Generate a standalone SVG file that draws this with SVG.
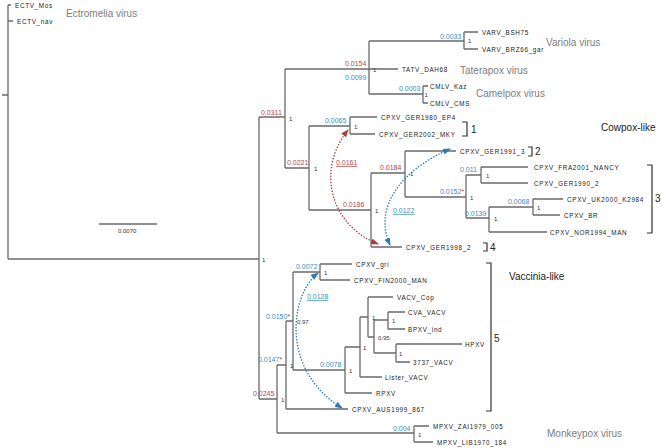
<svg xmlns="http://www.w3.org/2000/svg" width="662" height="448" viewBox="0 0 662 448">
<defs>
<style>
.br{stroke:#6a6a6a;stroke-width:1.3;fill:none}
.lf{font-family:"Liberation Sans",Arial,sans-serif;font-size:6.3px;letter-spacing:0.7px;fill:#222}
.bl{font-family:"Liberation Sans",Arial,sans-serif;font-size:7px;fill:#3a8cc4}
.rd{font-family:"Liberation Sans",Arial,sans-serif;font-size:7px;fill:#b84545}
.sp{font-family:"Liberation Sans",Arial,sans-serif;font-size:6px;fill:#333}
.grp{font-family:"Liberation Sans",Arial,sans-serif;font-size:10px;fill:#7d7d7d}
.cl{font-family:"Liberation Sans",Arial,sans-serif;font-size:10px;fill:#222}
.bk{stroke:#333;stroke-width:1.2;fill:none}
.u{text-decoration:underline}
.ra{stroke:#b03a3a;stroke-width:1.3;fill:none;stroke-dasharray:1.5 1.5}
.ba{stroke:#2b7bba;stroke-width:1.3;fill:none;stroke-dasharray:1.5 1.5}
</style>
<marker id="mr" viewBox="0 0 8 6" refX="7" refY="3" markerWidth="8" markerHeight="6" markerUnits="userSpaceOnUse" orient="auto-start-reverse"><path d="M0,0 L8,3 L0,6 Z" fill="#b03a3a"/></marker>
<marker id="mb" viewBox="0 0 8 6" refX="7" refY="3" markerWidth="8" markerHeight="6" markerUnits="userSpaceOnUse" orient="auto-start-reverse"><path d="M0,0 L8,3 L0,6 Z" fill="#2b7bba"/></marker>
</defs>
<rect width="662" height="448" fill="#fff"/>

<g id="connectors">
<!-- root -->
<path class="br" d="M2,95 H8 M8,5 V259 M8,5 H11 M8,21 H13 M8,259 H259"/>
<!-- A -->
<path class="br" d="M259,117 V399 M259,117 H285 M259,399 H277"/>
<!-- B -->
<path class="br" d="M285,69 V168 M285,69 H398 M285,168 H309"/>
<!-- C trifurcation -->
<path class="br" d="M369,41 V94 M369,41 H464 M369,94 H423"/>
<path class="br" d="M464,32 V49 M464,32 H478 M464,49 H478"/>
<path class="br" d="M423,86 V103 M423,86 H428 M423,103 H428"/>
<!-- D -->
<path class="br" d="M309,126 V210 M309,126 H350 M309,210 H371"/>
<path class="br" d="M350,117 V134 M350,117 H377 M350,134 H375"/>
<!-- E -->
<path class="br" d="M371,173 V247 M371,173 H405 M371,247 H402"/>
<path class="br" d="M405,151 V197 M405,151 H456 M405,197 H466"/>
<path class="br" d="M466,175 V218 M466,175 H481 M466,218 H489"/>
<path class="br" d="M481,167 V183 M481,167 H528 M481,183 H528"/>
<path class="br" d="M489,207 V232 M489,207 H533 M489,232 H547"/>
<path class="br" d="M533,199 V215 M533,199 H563 M533,215 H560"/>
<!-- Vaccinia side -->
<path class="br" d="M277,365 V433 M277,365 H286 M277,433 H414"/>
<path class="br" d="M414,426 V442 M414,426 H429 M414,442 H433"/>
<path class="br" d="M286,321 V409 M286,321 H293 M286,409 H348"/>
<path class="br" d="M293,272 V370 M293,272 H320 M293,370 H345"/>
<path class="br" d="M320,264 V280 M320,264 H352 M320,280 H350"/>
<path class="br" d="M345,347 V393 M345,347 H360 M345,393 H372"/>
<path class="br" d="M360,317 V377 M360,317 H368 M360,377 H382"/>
<path class="br" d="M368,297 V337 M368,297 H393 M368,337 H374"/>
<path class="br" d="M374,320 V353 M374,320 H388 M374,353 H396"/>
<path class="br" d="M388,312 V329 M388,312 H405 M388,329 H405"/>
<path class="br" d="M396,344 V362 M396,344 H462 M396,362 H410"/>
<!-- scale bar -->
<path class="br" d="M99,224 H157"/>
<!-- brackets -->
<path class="bk" d="M462,122 H467 V136 H462"/>
<path class="bk" d="M528,147 H532 V156 H528"/>
<path class="bk" d="M647,165 H652 V233 H647"/>
<path class="bk" d="M483,243 H487 V251 H483"/>
<path class="bk" d="M486,263 H491 V411 H486"/>
<!-- recombination arrows -->
<path class="ra" d="M378,244 C330,225 316,170 348,130" marker-start="url(#mr)" marker-end="url(#mr)"/>
<path class="ba" d="M390,245 C372,205 405,168 450,149" marker-start="url(#mb)" marker-end="url(#mb)"/>
<path class="ba" d="M318,273 C290,295 280,370 342,408" marker-start="url(#mb)" marker-end="url(#mb)"/>
</g>

<g id="leaf-ECTV_Mos"><text class="lf" x="15" y="7.5">ECTV_Mos</text></g>
<g id="leaf-ECTV_nav"><text class="lf" x="17" y="23.5">ECTV_nav</text></g>
<g id="leaf-VARV_BSH75"><text class="lf" x="482" y="34.5">VARV_BSH75</text></g>
<g id="leaf-VARV_BRZ66_gar"><text class="lf" x="482" y="51.5">VARV_BRZ66_gar</text></g>
<g id="leaf-TATV_DAH68"><text class="lf" x="402" y="71.5">TATV_DAH68</text></g>
<g id="leaf-CMLV_Kaz"><text class="lf" x="430" y="88.5">CMLV_Kaz</text></g>
<g id="leaf-CMLV_CMS"><text class="lf" x="430" y="105.5">CMLV_CMS</text></g>
<g id="leaf-CPXV_GER1980_EP4"><text class="lf" x="381" y="119.5">CPXV_GER1980_EP4</text></g>
<g id="leaf-CPXV_GER2002_MKY"><text class="lf" x="379" y="136.5">CPXV_GER2002_MKY</text></g>
<g id="leaf-CPXV_GER1991_3"><text class="lf" x="460" y="153.5">CPXV_GER1991_3</text></g>
<g id="leaf-CPXV_FRA2001_NANCY"><text class="lf" x="534" y="169.5">CPXV_FRA2001_NANCY</text></g>
<g id="leaf-CPXV_GER1990_2"><text class="lf" x="534" y="185.5">CPXV_GER1990_2</text></g>
<g id="leaf-CPXV_UK2000_K2984"><text class="lf" x="567" y="201.5">CPXV_UK2000_K2984</text></g>
<g id="leaf-CPXV_BR"><text class="lf" x="564" y="217.5">CPXV_BR</text></g>
<g id="leaf-CPXV_NOR1994_MAN"><text class="lf" x="550" y="234.5">CPXV_NOR1994_MAN</text></g>
<g id="leaf-CPXV_GER1998_2"><text class="lf" x="406" y="249.5">CPXV_GER1998_2</text></g>
<g id="leaf-CPXV_gri"><text class="lf" x="356" y="266.5">CPXV_gri</text></g>
<g id="leaf-CPXV_FIN2000_MAN"><text class="lf" x="354" y="282.5">CPXV_FIN2000_MAN</text></g>
<g id="leaf-VACV_Cop"><text class="lf" x="397" y="299.5">VACV_Cop</text></g>
<g id="leaf-CVA_VACV"><text class="lf" x="408" y="314.5">CVA_VACV</text></g>
<g id="leaf-BPXV_ind"><text class="lf" x="408" y="331.5">BPXV_ind</text></g>
<g id="leaf-HPXV"><text class="lf" x="465" y="346.5">HPXV</text></g>
<g id="leaf-3737_VACV"><text class="lf" x="413" y="364.5">3737_VACV</text></g>
<g id="leaf-Lister_VACV"><text class="lf" x="385" y="379.5">Lister_VACV</text></g>
<g id="leaf-RPXV"><text class="lf" x="376" y="395.5">RPXV</text></g>
<g id="leaf-CPXV_AUS1999_867"><text class="lf" x="352" y="411.5">CPXV_AUS1999_867</text></g>
<g id="leaf-MPXV_ZAI1979_005"><text class="lf" x="433" y="428.5">MPXV_ZAI1979_005</text></g>
<g id="leaf-MPXV_LIB1970_184"><text class="lf" x="437" y="444.5">MPXV_LIB1970_184</text></g>

<g id="node-A"><text class="sp" x="262" y="262">1</text></g>
<g id="node-B"><text class="rd" x="261" y="115">0.0311</text><text class="sp" x="289" y="121">1</text></g>
<g id="node-C"><text class="rd" x="345" y="66">0.0154</text><text class="bl" x="345" y="80">0.0099</text><text class="sp" x="373" y="71.5">1</text></g>
<g id="node-variola"><text class="bl" x="440" y="39">0.0033</text><text class="sp" x="468" y="43">1</text></g>
<g id="node-camelpox"><text class="bl" x="399" y="91">0.0003</text><text class="sp" x="424.5" y="96.5">1</text></g>
<g id="node-D"><text class="rd" x="287" y="165">0.0221</text><text class="sp" x="314" y="171">1</text></g>
<g id="node-GER"><text class="bl" x="325" y="123">0.0065</text><text class="sp" x="354" y="129">1</text></g>
<g id="node-E"><text class="rd" x="343" y="207">0.0186</text><text class="sp" x="375" y="213">1</text></g>
<g id="node-F"><text class="rd" x="380" y="170">0.0184</text><text class="sp" x="410" y="176">1</text></g>
<g id="node-G"><text class="bl" x="440" y="194">0.0152<tspan fill="#c03a3a">*</tspan></text><text class="sp" x="470" y="200">1</text></g>
<g id="node-H"><text class="bl" x="460" y="172">0.011</text><text class="sp" x="486" y="178">1</text></g>
<g id="node-I"><text class="bl" x="465" y="216">0.0139</text><text class="sp" x="494" y="221">1</text></g>
<g id="node-J"><text class="bl" x="508" y="204">0.0068</text><text class="sp" x="537" y="210">1</text></g>
<g id="node-K"><text class="rd" x="253" y="396">0.0245</text><text class="sp" x="281" y="402">1</text></g>
<g id="node-L"><text class="bl" x="258" y="362">0.0147<tspan fill="#c03a3a">*</tspan></text><text class="sp" x="290" y="368">1</text></g>
<g id="node-M"><text class="bl" x="266" y="319">0.0150<tspan fill="#c03a3a">*</tspan></text><text class="sp" x="297" y="324">0.97</text></g>
<g id="node-N"><text class="bl" x="296" y="269">0.0072</text><text class="sp" x="324" y="275">1</text></g>
<g id="node-N1"><text class="bl" x="320" y="367">0.0078</text><text class="sp" x="349" y="373">1</text></g>
<g id="node-N2"><text class="sp" x="363" y="350">1</text></g>
<g id="node-N3"><text class="sp" x="372" y="320">1</text></g>
<g id="node-N4"><text class="sp" x="378" y="340">0.95</text></g>
<g id="node-N5"><text class="sp" x="392" y="323">1</text></g>
<g id="node-N6"><text class="sp" x="399" y="356">1</text></g>
<g id="node-MPXV"><text class="bl" x="393" y="431">0.004</text><text class="sp" x="418" y="437">1</text></g>

<g id="recomb-labels">
<text class="rd u" x="336" y="165">0.0161</text>
<text class="bl u" x="393" y="213">0.0122</text>
<text class="bl u" x="307" y="299">0.0128</text>
</g>

<g id="scale"><text class="sp" x="118" y="233" font-size="6.5">0.0070</text></g>

<g id="groups">
<text class="grp" x="66" y="17">Ectromelia virus</text>
<text class="grp" x="546" y="46">Variola virus</text>
<text class="grp" x="460" y="74">Taterapox virus</text>
<text class="grp" x="476" y="97">Camelpox virus</text>
<text class="cl" x="601" y="131">Cowpox-like</text>
<text class="cl" x="509" y="280">Vaccinia-like</text>
<text class="grp" x="547" y="437">Monkeypox virus</text>
<text class="cl" x="471" y="133">1</text>
<text class="cl" x="535" y="155">2</text>
<text class="cl" x="655" y="202">3</text>
<text class="cl" x="490" y="251">4</text>
<text class="cl" x="494" y="342">5</text>
</g>
</svg>
